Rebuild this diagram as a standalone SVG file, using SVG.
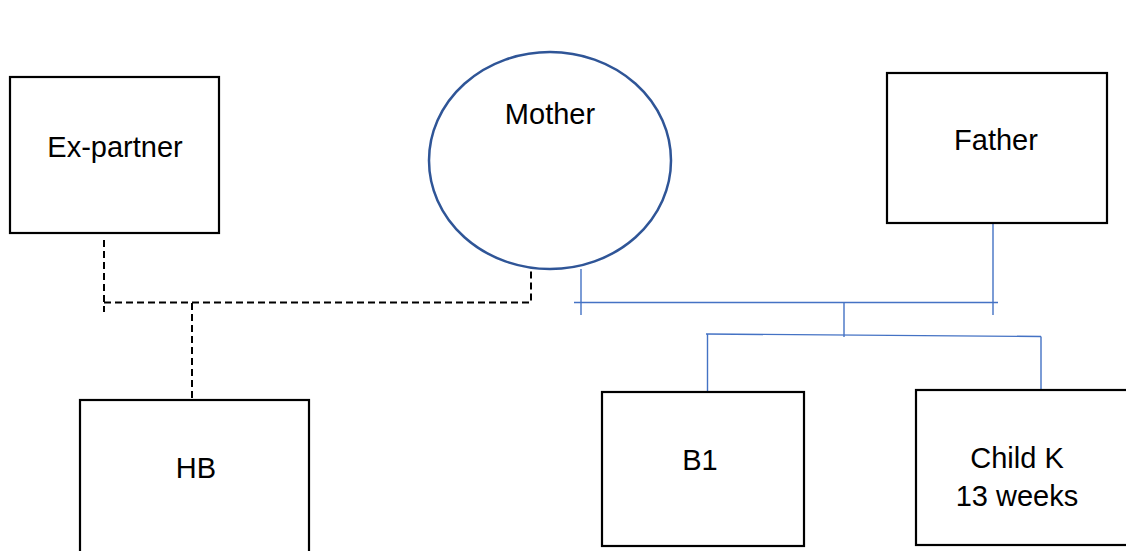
<svg xmlns="http://www.w3.org/2000/svg" width="1126" height="551" viewBox="0 0 1126 551">
<style>
.box{fill:#fff;stroke:#000;stroke-width:2.2}
.lbl{font-family:"Liberation Sans",Arial,sans-serif;font-size:29px;fill:#000;text-anchor:middle}
.dash{fill:none;stroke:#000;stroke-width:2;stroke-dasharray:7,4}
.blue{fill:none;stroke:#4472C4;stroke-width:1.4}
</style>
<rect width="1126" height="551" fill="#fff"/>
<g id="connectors">
<path class="dash" d="M104,240 V312"/>
<path class="dash" d="M104,302.5 H531 V265"/>
<path class="dash" d="M192,303 V398"/>
<path class="blue" d="M581,269 V315"/>
<path class="blue" d="M574,302.5 H998"/>
<path class="blue" d="M993,223 V315"/>
<path class="blue" d="M844,302.5 V337"/>
<path class="blue" d="M706,334 L1041,336.5"/>
<path class="blue" d="M707.5,334 V392"/>
<path class="blue" d="M1041,336.5 V389"/>
</g>
<g id="ex-partner">
<rect class="box" x="10" y="77" width="209" height="156"/>
<text class="lbl" x="115" y="157">Ex-partner</text>
</g>
<g id="mother">
<ellipse cx="550" cy="160.5" rx="121" ry="108.5" fill="#fff" stroke="#2F5597" stroke-width="2.5"/>
<text class="lbl" x="550" y="124">Mother</text>
</g>
<g id="father">
<rect class="box" x="887" y="73" width="220" height="150"/>
<text class="lbl" x="996" y="150">Father</text>
</g>
<g id="hb">
<rect class="box" x="80" y="400" width="229" height="160"/>
<text class="lbl" x="196" y="478">HB</text>
</g>
<g id="b1">
<rect class="box" x="602" y="392" width="202" height="154"/>
<text class="lbl" x="700" y="470">B1</text>
</g>
<g id="child-k">
<rect class="box" x="916" y="390" width="212" height="155"/>
<text class="lbl" x="1017" y="468">Child K</text>
<text class="lbl" x="1017" y="506">13 weeks</text>
</g>
</svg>
